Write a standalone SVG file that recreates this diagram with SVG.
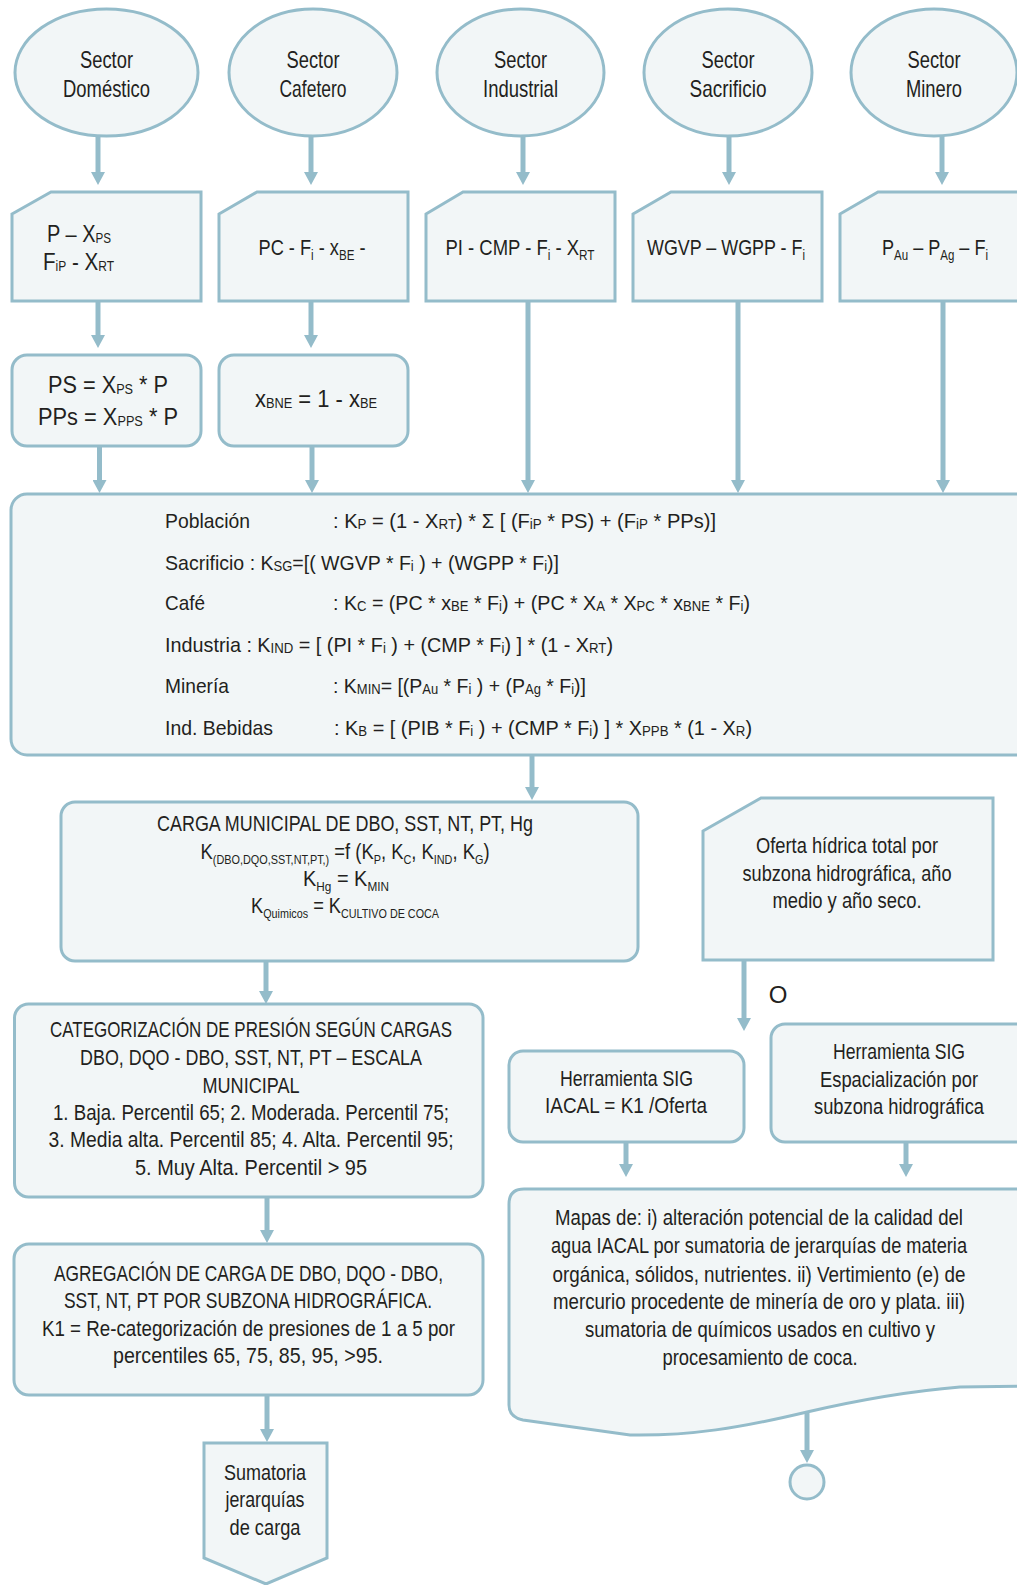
<svg xmlns="http://www.w3.org/2000/svg" width="1017" height="1585" viewBox="0 0 1017 1585" xml:space="preserve">
<style>
.sh{fill:#F2F6F7;stroke:#94BCCA;stroke-width:3}
.cn{font-family:"Liberation Sans",Arial,sans-serif;font-size:22px;fill:#231F20}
.ar{font-family:"Liberation Sans",Arial,sans-serif;font-size:21px;fill:#231F20}
.big{font-size:24px}
.mid{text-anchor:middle}
.s{font-size:14px}
.s2{font-size:13px}
.ln{fill:none;stroke:#94BCCA;stroke-width:5}
</style>
<defs>
<marker id="ah" markerUnits="userSpaceOnUse" markerWidth="14" markerHeight="14" viewBox="0 0 14 14" refX="3" refY="7" orient="auto"><path d="M0,0 L13,7 L0,14 Z" fill="#94BCCA"/></marker>
</defs>
<g id="connectors">
<path class="ln" marker-end="url(#ah)" d="M98,136 V175"/>
<path class="ln" marker-end="url(#ah)" d="M311,136 V175"/>
<path class="ln" marker-end="url(#ah)" d="M523,136 V175"/>
<path class="ln" marker-end="url(#ah)" d="M729,136 V175"/>
<path class="ln" marker-end="url(#ah)" d="M942,136 V175"/>
<path class="ln" marker-end="url(#ah)" d="M98,301 V338"/>
<path class="ln" marker-end="url(#ah)" d="M311,301 V338"/>
<path class="ln" marker-end="url(#ah)" d="M99.5,446 V483"/>
<path class="ln" marker-end="url(#ah)" d="M312,446 V483"/>
<path class="ln" marker-end="url(#ah)" d="M528,301 V483"/>
<path class="ln" marker-end="url(#ah)" d="M738,301 V483"/>
<path class="ln" marker-end="url(#ah)" d="M943,301 V483"/>
<path class="ln" marker-end="url(#ah)" d="M532,755 V790"/>
<path class="ln" marker-end="url(#ah)" d="M266,961 V994"/>
<path class="ln" marker-end="url(#ah)" d="M267,1197 V1233"/>
<path class="ln" marker-end="url(#ah)" d="M267,1395 V1432"/>
<path class="ln" marker-end="url(#ah)" d="M744,960 V1021"/>
<path class="ln" marker-end="url(#ah)" d="M626,1142 V1167"/>
<path class="ln" marker-end="url(#ah)" d="M906,1142 V1167"/>
<path class="ln" marker-end="url(#ah)" d="M807,1411 V1453"/>
</g>
<g id="sector-domestico"><ellipse class="sh" cx="106.5" cy="72.5" rx="91.5" ry="63.5"/><text class="cn big mid" x="106.5" y="68" textLength="53" lengthAdjust="spacingAndGlyphs">Sector</text><text class="cn big mid" x="106.5" y="97" textLength="87" lengthAdjust="spacingAndGlyphs">Doméstico</text></g>
<g id="sector-cafetero"><ellipse class="sh" cx="313" cy="72.5" rx="84" ry="63.5"/><text class="cn big mid" x="313" y="68" textLength="53" lengthAdjust="spacingAndGlyphs">Sector</text><text class="cn big mid" x="313" y="97" textLength="67" lengthAdjust="spacingAndGlyphs">Cafetero</text></g>
<g id="sector-industrial"><ellipse class="sh" cx="520.5" cy="72.5" rx="83.5" ry="63.5"/><text class="cn big mid" x="520.5" y="68" textLength="53" lengthAdjust="spacingAndGlyphs">Sector</text><text class="cn big mid" x="520.5" y="97" textLength="75" lengthAdjust="spacingAndGlyphs">Industrial</text></g>
<g id="sector-sacrificio"><ellipse class="sh" cx="728" cy="72.5" rx="84" ry="63.5"/><text class="cn big mid" x="728" y="68" textLength="53" lengthAdjust="spacingAndGlyphs">Sector</text><text class="cn big mid" x="728" y="97" textLength="77" lengthAdjust="spacingAndGlyphs">Sacrificio</text></g>
<g id="sector-minero"><ellipse class="sh" cx="934" cy="72.5" rx="83" ry="63.5"/><text class="cn big mid" x="934" y="68" textLength="53" lengthAdjust="spacingAndGlyphs">Sector</text><text class="cn big mid" x="934" y="97" textLength="56" lengthAdjust="spacingAndGlyphs">Minero</text></g>
<g id="input-domestico"><path class="sh" d="M12,214 L51,192 H201 V301 H12 Z"/><text class="ar big" x="47" y="242" textLength="64" lengthAdjust="spacingAndGlyphs">P – X<tspan class="s" dy="1">PS</tspan></text><text class="ar big" x="43" y="270" textLength="71" lengthAdjust="spacingAndGlyphs">F<tspan class="s" dy="1">iP</tspan><tspan dy="-1"> - X</tspan><tspan class="s" dy="1">RT</tspan></text></g>
<g id="input-cafetero"><path class="sh" d="M219,214 L257,192 H408 V301 H219 Z"/><text class="cn mid" x="312" y="255" textLength="107" lengthAdjust="spacingAndGlyphs">PC - F<tspan class="s" dy="5">i</tspan><tspan dy="-5"> - x</tspan><tspan class="s" dy="5">BE</tspan><tspan dy="-5"> -</tspan></text></g>
<g id="input-industrial"><path class="sh" d="M426,214 L463,192 H615 V301 H426 Z"/><text class="cn mid" x="520" y="255" textLength="149" lengthAdjust="spacingAndGlyphs">PI - CMP - F<tspan class="s" dy="5">i</tspan><tspan dy="-5"> - X</tspan><tspan class="s" dy="5">RT</tspan></text></g>
<g id="input-sacrificio"><path class="sh" d="M633,214 L671,192 H822 V301 H633 Z"/><text class="cn mid" x="726" y="255" textLength="158" lengthAdjust="spacingAndGlyphs">WGVP – WGPP - F<tspan class="s" dy="5">i</tspan></text></g>
<g id="input-minero"><path class="sh" d="M840,214 L878,192 H1030 V301 H840 Z"/><text class="cn mid" x="935" y="255" textLength="106" lengthAdjust="spacingAndGlyphs">P<tspan class="s" dy="5">Au</tspan><tspan dy="-5"> – P</tspan><tspan class="s" dy="5">Ag</tspan><tspan dy="-5"> – F</tspan><tspan class="s" dy="5">i</tspan></text></g>
<g id="calc-ps"><rect class="sh" x="12" y="355" width="189" height="91" rx="15"/><text class="ar big mid" x="108" y="393" textLength="120" lengthAdjust="spacingAndGlyphs">PS = X<tspan class="s" dy="1">PS</tspan><tspan dy="-1"> * P</tspan></text><text class="ar big mid" x="108" y="425" textLength="140" lengthAdjust="spacingAndGlyphs">PPs = X<tspan class="s" dy="1">PPS</tspan><tspan dy="-1"> * P</tspan></text></g>
<g id="calc-xbne"><rect class="sh" x="219" y="355" width="189" height="91" rx="15"/><text class="ar big mid" x="316" y="407" textLength="122" lengthAdjust="spacingAndGlyphs">x<tspan class="s" dy="1">BNE</tspan><tspan dy="-1"> = 1 - x</tspan><tspan class="s" dy="1">BE</tspan></text></g>
<g id="formulas"><rect class="sh" x="11" y="494" width="1030" height="261" rx="16"/>
<text class="ar" x="165" y="528" textLength="85" lengthAdjust="spacingAndGlyphs">Población</text><text class="ar" x="333" y="528" textLength="383" lengthAdjust="spacingAndGlyphs">: K<tspan class="s" dy="1">P</tspan><tspan dy="-1"> = (1 - X</tspan><tspan class="s" dy="1">RT</tspan><tspan dy="-1">) * Σ  [ (F</tspan><tspan class="s" dy="1">iP</tspan><tspan dy="-1"> * PS) + (F</tspan><tspan class="s" dy="1">iP</tspan><tspan dy="-1"> * PPs)]</tspan></text>
<text class="ar" x="165" y="570" textLength="394" lengthAdjust="spacingAndGlyphs">Sacrificio : K<tspan class="s" dy="1">SG</tspan><tspan dy="-1">=[( WGVP * F</tspan><tspan class="s" dy="1">i</tspan><tspan dy="-1"> ) + (WGPP * F</tspan><tspan class="s" dy="1">i</tspan><tspan dy="-1">)]</tspan></text>
<text class="ar" x="165" y="610" textLength="40" lengthAdjust="spacingAndGlyphs">Café</text><text class="ar" x="333" y="610" textLength="417" lengthAdjust="spacingAndGlyphs">: K<tspan class="s" dy="1">C</tspan><tspan dy="-1"> = (PC * x</tspan><tspan class="s" dy="1">BE</tspan><tspan dy="-1"> * F</tspan><tspan class="s" dy="1">i</tspan><tspan dy="-1">) + (PC * X</tspan><tspan class="s" dy="1">A</tspan><tspan dy="-1"> * X</tspan><tspan class="s" dy="1">PC</tspan><tspan dy="-1"> * x</tspan><tspan class="s" dy="1">BNE</tspan><tspan dy="-1"> * F</tspan><tspan class="s" dy="1">i</tspan><tspan dy="-1">)</tspan></text>
<text class="ar" x="165" y="652" textLength="448" lengthAdjust="spacingAndGlyphs">Industria  : K<tspan class="s" dy="1">IND</tspan><tspan dy="-1"> = [ (PI * F</tspan><tspan class="s" dy="1">i</tspan><tspan dy="-1"> ) + (CMP * F</tspan><tspan class="s" dy="1">i</tspan><tspan dy="-1">) ] * (1 - X</tspan><tspan class="s" dy="1">RT</tspan><tspan dy="-1">)</tspan></text>
<text class="ar" x="165" y="693" textLength="64" lengthAdjust="spacingAndGlyphs">Minería</text><text class="ar" x="333" y="693" textLength="253" lengthAdjust="spacingAndGlyphs">: K<tspan class="s" dy="1">MIN</tspan><tspan dy="-1">= [(P</tspan><tspan class="s" dy="1">Au</tspan><tspan dy="-1"> * F</tspan><tspan class="s" dy="1">i</tspan><tspan dy="-1"> ) + (P</tspan><tspan class="s" dy="1">Ag</tspan><tspan dy="-1"> * F</tspan><tspan class="s" dy="1">i</tspan><tspan dy="-1">)]</tspan></text>
<text class="ar" x="165" y="735" textLength="108" lengthAdjust="spacingAndGlyphs">Ind. Bebidas</text><text class="ar" x="334" y="735" textLength="418" lengthAdjust="spacingAndGlyphs">:  K<tspan class="s" dy="1">B</tspan><tspan dy="-1"> = [ (PIB * F</tspan><tspan class="s" dy="1">i</tspan><tspan dy="-1"> ) + (CMP * F</tspan><tspan class="s" dy="1">i</tspan><tspan dy="-1">) ] * X</tspan><tspan class="s" dy="1">PPB</tspan><tspan dy="-1"> * (1 - X</tspan><tspan class="s" dy="1">R</tspan><tspan dy="-1">)</tspan></text>
</g>
<g id="carga-municipal"><rect class="sh" x="61" y="802" width="577" height="159" rx="14"/>
<text class="cn mid" x="345" y="831" textLength="376" lengthAdjust="spacingAndGlyphs">CARGA MUNICIPAL DE DBO, SST, NT, PT, Hg</text>
<text class="cn mid" x="345" y="859" textLength="289" lengthAdjust="spacingAndGlyphs">K<tspan class="s2" dy="5">(DBO,DQO,SST,NT,PT,)</tspan><tspan dy="-5"> =f (K</tspan><tspan class="s2" dy="5">P</tspan><tspan dy="-5">, K</tspan><tspan class="s2" dy="5">C</tspan><tspan dy="-5">, K</tspan><tspan class="s2" dy="5">IND</tspan><tspan dy="-5">, K</tspan><tspan class="s2" dy="5">G</tspan><tspan dy="-5">)</tspan></text>
<text class="cn mid" x="346" y="886" textLength="86" lengthAdjust="spacingAndGlyphs">K<tspan class="s2" dy="5">Hg</tspan><tspan dy="-5"> = K</tspan><tspan class="s2" dy="5">MIN</tspan></text>
<text class="cn mid" x="345" y="913" textLength="188" lengthAdjust="spacingAndGlyphs">K<tspan class="s2" dy="5">Quimicos</tspan><tspan dy="-5"> = K</tspan><tspan class="s2" dy="5">CULTIVO DE COCA</tspan></text>
</g>
<g id="categorizacion"><rect class="sh" x="14.5" y="1004" width="468.5" height="193" rx="14"/>
<text class="cn mid" x="251" y="1037" textLength="402" lengthAdjust="spacingAndGlyphs">CATEGORIZACIÓN DE PRESIÓN SEGÚN CARGAS</text>
<text class="cn mid" x="251" y="1065" textLength="342" lengthAdjust="spacingAndGlyphs">DBO, DQO - DBO, SST, NT, PT – ESCALA</text>
<text class="cn mid" x="251" y="1093" textLength="97" lengthAdjust="spacingAndGlyphs">MUNICIPAL</text>
<text class="cn mid" x="251" y="1120" textLength="396" lengthAdjust="spacingAndGlyphs">1. Baja. Percentil 65; 2. Moderada. Percentil 75;</text>
<text class="cn mid" x="251" y="1147" textLength="405" lengthAdjust="spacingAndGlyphs">3. Media alta.  Percentil 85; 4. Alta.  Percentil 95;</text>
<text class="cn mid" x="251" y="1175" textLength="232" lengthAdjust="spacingAndGlyphs">5. Muy Alta.  Percentil &gt; 95</text>
</g>
<g id="agregacion"><rect class="sh" x="14" y="1244" width="469" height="151" rx="15"/>
<text class="cn mid" x="248.5" y="1281" textLength="389" lengthAdjust="spacingAndGlyphs">AGREGACIÓN DE CARGA DE DBO, DQO - DBO,</text>
<text class="cn mid" x="248" y="1308" textLength="368" lengthAdjust="spacingAndGlyphs">SST, NT, PT POR SUBZONA HIDROGRÁFICA.</text>
<text class="cn mid" x="248.5" y="1336" textLength="413" lengthAdjust="spacingAndGlyphs">K1 = Re-categorización de presiones de 1 a 5 por</text>
<text class="cn mid" x="248" y="1363" textLength="270" lengthAdjust="spacingAndGlyphs">percentiles 65, 75, 85, 95, &gt;95.</text>
</g>
<g id="sumatoria"><path class="sh" d="M204,1443 H327 V1558 L266,1584 L204,1558 Z"/>
<text class="cn mid" x="265" y="1480" textLength="82" lengthAdjust="spacingAndGlyphs">Sumatoria</text>
<text class="cn mid" x="265" y="1507" textLength="79" lengthAdjust="spacingAndGlyphs">jerarquías</text>
<text class="cn mid" x="265" y="1535" textLength="71" lengthAdjust="spacingAndGlyphs">de carga</text>
</g>
<g id="oferta"><path class="sh" d="M703,831 L761,798 H993 V960 H703 Z"/>
<text class="cn mid" x="847" y="853" textLength="182" lengthAdjust="spacingAndGlyphs">Oferta hídrica total por</text>
<text class="cn mid" x="847" y="881" textLength="209" lengthAdjust="spacingAndGlyphs">subzona hidrográfica, año</text>
<text class="cn mid" x="847" y="908" textLength="149" lengthAdjust="spacingAndGlyphs">medio y año seco.</text>
</g>
<text class="ar big mid" x="778" y="1003">O</text>
<g id="herramienta-iacal"><rect class="sh" x="509" y="1051" width="235" height="91" rx="14"/>
<text class="cn mid" x="626.5" y="1086" textLength="133" lengthAdjust="spacingAndGlyphs">Herramienta SIG</text>
<text class="cn mid" x="626" y="1113" textLength="162" lengthAdjust="spacingAndGlyphs">IACAL = K1 /Oferta</text>
</g>
<g id="herramienta-espacializacion"><rect class="sh" x="771" y="1024" width="260" height="118" rx="14"/>
<text class="cn mid" x="899" y="1059" textLength="132" lengthAdjust="spacingAndGlyphs">Herramienta SIG</text>
<text class="cn mid" x="899" y="1087" textLength="158" lengthAdjust="spacingAndGlyphs">Espacialización por</text>
<text class="cn mid" x="899" y="1114" textLength="170" lengthAdjust="spacingAndGlyphs">subzona hidrográfica</text>
</g>
<g id="mapas"><path class="sh" d="M524,1189 H1030 V1386 L960,1387 C900,1392 850,1402 807,1412 C740,1428 690,1436 630,1435 L523,1420 Q509,1417 509,1405 V1204 Q509,1189 524,1189 Z"/>
<text class="cn mid" x="759" y="1225" textLength="408" lengthAdjust="spacingAndGlyphs">Mapas de: i) alteración potencial de la calidad del</text>
<text class="cn mid" x="759" y="1253" textLength="416" lengthAdjust="spacingAndGlyphs">agua IACAL por sumatoria de jerarquías de materia</text>
<text class="cn mid" x="759" y="1282" textLength="413" lengthAdjust="spacingAndGlyphs">orgánica, sólidos, nutrientes. ii) Vertimiento (e) de</text>
<text class="cn mid" x="759" y="1309" textLength="412" lengthAdjust="spacingAndGlyphs">mercurio procedente de minería de oro y plata. iii)</text>
<text class="cn mid" x="760" y="1337" textLength="350" lengthAdjust="spacingAndGlyphs">sumatoria de químicos usados en cultivo y</text>
<text class="cn mid" x="760" y="1365" textLength="195" lengthAdjust="spacingAndGlyphs">procesamiento de coca.</text>
</g>
<g id="end"><circle class="sh" cx="807" cy="1482" r="17"/></g>
</svg>
